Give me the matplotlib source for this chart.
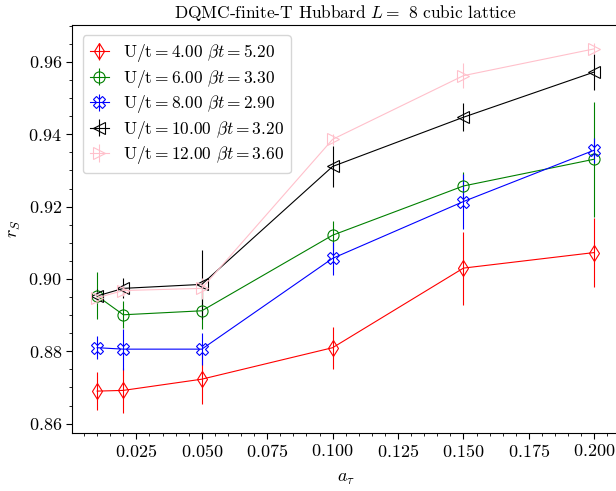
"""Plot r_S against the Trotter step a_tau for several U/t."""

import matplotlib
matplotlib.use("Agg")
import matplotlib.pyplot as plt

plt.rcParams['font.family'] = 'serif'
plt.rcParams['font.serif'] = ['cmr10']
plt.rcParams['mathtext.fontset'] = 'cm'
plt.rcParams['axes.formatter.use_mathtext'] = True
plt.rcParams['font.size'] = 13

# Trotter steps
a_tau = [0.01, 0.02, 0.05, 0.10, 0.15, 0.20]

# r_S values and error bars, one series per U/t
rs_u4 = [0.8690, 0.8692, 0.8723, 0.8810, 0.9030, 0.9073]
err_u4 = [0.0053, 0.0063, 0.0069, 0.0058, 0.0101, 0.0095]

rs_u6 = [0.8953, 0.8901, 0.8912, 0.9121, 0.9257, 0.9331]
err_u6 = [0.0065, 0.0037, 0.0051, 0.0040, 0.0040, 0.0159]

rs_u8 = [0.8810, 0.8806, 0.8806, 0.9057, 0.9214, 0.9356]
err_u8 = [0.0032, 0.0057, 0.0045, 0.0046, 0.0077, 0.0035]

rs_u10 = [0.8953, 0.8974, 0.8985, 0.9311, 0.9447, 0.9572]
err_u10 = [0.0020, 0.0028, 0.0095, 0.0056, 0.0039, 0.0051]

rs_u12 = [0.8948, 0.8968, 0.8974, 0.9386, 0.9562, 0.9636]
err_u12 = [0.0015, 0.0015, 0.0030, 0.0015, 0.0035, 0.0015]

labels = [
    r"$\mathrm{U/t} = 4.00$ $\beta t = 5.20$",
    r"$\mathrm{U/t} = 6.00$ $\beta t = 3.30$",
    r"$\mathrm{U/t} = 8.00$ $\beta t = 2.90$",
    r"$\mathrm{U/t} = 10.00$ $\beta t = 3.20$",
    r"$\mathrm{U/t} = 12.00$ $\beta t = 3.60$",
]

series = [rs_u4, rs_u6, rs_u8, rs_u10, rs_u12]
errors = [err_u4, err_u6, err_u8, err_u10, err_u12]
colors = ['red', 'green', 'blue', 'black', 'pink']
markers = ['d', 'o', 'X', '<', '>']

fig = plt.figure(figsize=(6.16, 4.91), dpi=100)
ax = fig.add_axes([0.1174, 0.1187, 0.8876, 0.8304])

for ys, es, c, m, lab in zip(series, errors, colors, markers, labels):
    ax.errorbar(a_tau, ys, yerr=es, color=c, marker=m, markersize=8,
                markerfacecolor='none', markeredgewidth=0.8,
                linewidth=0.8, elinewidth=0.8, capsize=0, label=lab)

ax.set_ylim(0.8575, 0.9702)
ax.minorticks_on()
ax.tick_params(which='major', length=4)
ax.tick_params(which='minor', length=2.5)

ax.set_xlabel(r"$a_\tau$", labelpad=8)
ax.set_ylabel(r"$r_S$")
ax.set_title(r"DQMC-finite-T Hubbard $L=$ 8 cubic lattice", fontsize=12.5,
             pad=5)

ax.legend(loc='upper left', fontsize=12.5, handlelength=1.1,
          handletextpad=0.8, labelspacing=0.2, borderaxespad=0.6)

fig.savefig("out.png", dpi=100)
